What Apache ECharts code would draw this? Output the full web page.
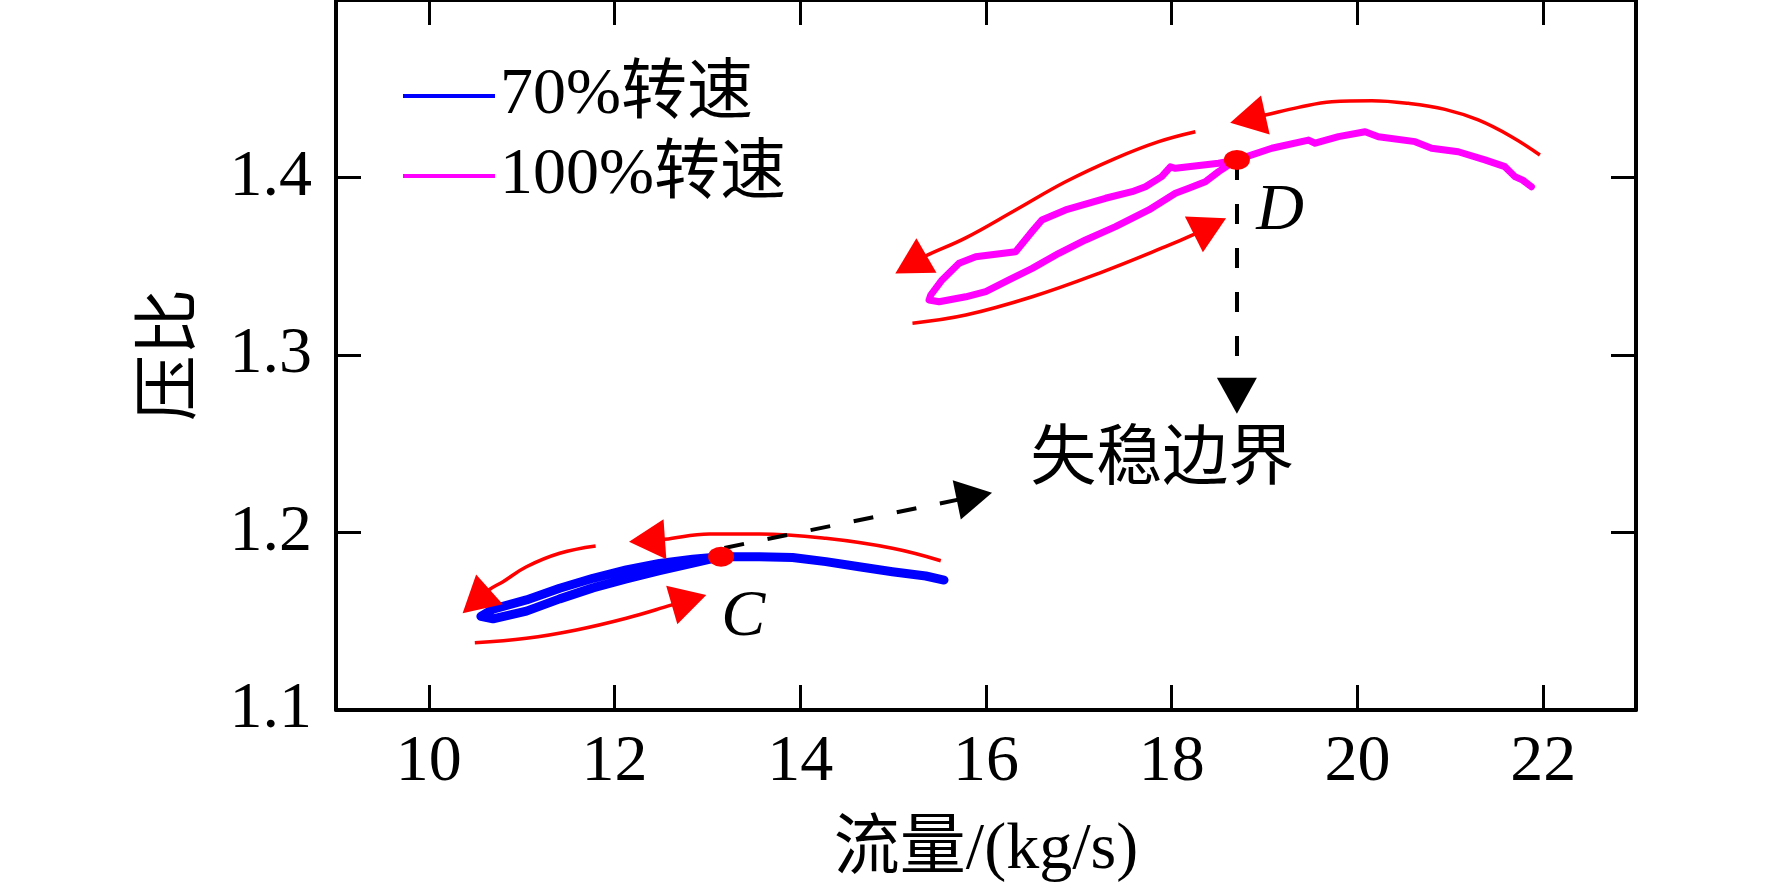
<!DOCTYPE html>
<html>
<head>
    <meta charset="utf-8">
    <title>压比-流量</title>
    <style>
        html, body { margin: 0; padding: 0; background: #fff; }
        #main { width: 1772px; height: 892px; }
    </style>
</head>
<body>
    <div id="main"></div>
    <script src="https://cdn.jsdelivr.net/npm/echarts@6.0.0/dist/echarts.min.js"></script>
    <script type="text/javascript">

        // 70% speed line: from the right end to stall point C, then the loop (upper branch out, lower branch back)
        const SPEED_70 = [
            [15.548, 1.1732], [15.352, 1.1755], [14.992, 1.1779], [14.634, 1.1807], [14.276, 1.1836],
            [13.917, 1.1859], [13.559, 1.1864], [13.147, 1.1864],
            [12.842, 1.1849], [12.484, 1.1826], [12.126, 1.1789], [11.767, 1.1742], [11.409, 1.1686],
            [11.051, 1.1620], [10.691, 1.1568], [10.560, 1.1528],
            [10.691, 1.1514], [11.051, 1.1557], [11.409, 1.1626], [11.767, 1.1688], [12.126, 1.1738],
            [12.484, 1.1785], [12.842, 1.1828], [13.147, 1.1864]
        ];

        // 100% speed line: from the right end to stall point D, then the loop
        const SPEED_100 = [
            [21.874, 1.3948], [21.780, 1.3985], [21.696, 1.4005], [21.588, 1.4061], [21.373, 1.4099],
            [21.086, 1.4145], [20.799, 1.4165], [20.621, 1.4202], [20.226, 1.4230], [20.083, 1.4258],
            [19.796, 1.4230], [19.545, 1.4193], [19.473, 1.4211], [19.078, 1.4165], [18.702, 1.4099],
            [18.505, 1.4080], [18.040, 1.4052], [17.986, 1.4060], [17.892, 1.4005], [17.717, 1.3948],
            [17.573, 1.3920], [17.287, 1.3883], [16.857, 1.3817], [16.602, 1.3761], [16.495, 1.3695],
            [16.319, 1.3582], [15.889, 1.3554], [15.710, 1.3517], [15.527, 1.3423], [15.405, 1.3338],
            [15.387, 1.3310],
            [15.495, 1.3300], [15.782, 1.3328], [15.997, 1.3357], [16.247, 1.3423], [16.498, 1.3488],
            [16.785, 1.3573], [17.072, 1.3648], [17.395, 1.3723], [17.753, 1.3817], [18.040, 1.3911],
            [18.183, 1.3939], [18.362, 1.3976], [18.505, 1.4033], [18.613, 1.4070], [18.702, 1.4099]
        ];

        // red guide arcs, the last point is where the arrow head sits
        const ARC_70_TOP = [[15.513, 1.1841], [14.992, 1.1911], [14.276, 1.1967], [13.559, 1.1992], [13.022, 1.1992], [12.538, 1.1962], [12.349, 1.1955]];
        const ARC_70_UPPER = [[11.796, 1.1924], [11.409, 1.1883], [11.051, 1.1807], [10.799, 1.1723], [10.645, 1.1676], [10.508, 1.1612]];
        const ARC_70_LOWER = [[10.495, 1.1379], [11.051, 1.1404], [11.588, 1.1451], [12.126, 1.1517], [12.618, 1.1592], [12.802, 1.1620]];
        const ARC_100_TOP = [[21.965, 1.4127], [21.659, 1.4230], [21.301, 1.4324], [20.943, 1.4384], [20.548, 1.4418], [20.154, 1.4433], [19.724, 1.4427], [19.366, 1.4395], [19.008, 1.4352], [18.819, 1.4330]];
        const ARC_100_UPPER = [[18.255, 1.4258], [17.860, 1.4202], [17.395, 1.4108], [16.857, 1.3976], [16.319, 1.3817], [15.782, 1.3660], [15.349, 1.3558], [15.191, 1.3510]];
        const ARC_100_LOWER = [[15.208, 1.3179], [15.782, 1.3225], [16.498, 1.3328], [17.215, 1.3460], [17.932, 1.3610], [18.245, 1.3681], [18.412, 1.3725]];
        const RED_ARCS = [ARC_70_TOP, ARC_70_UPPER, ARC_70_LOWER, ARC_100_TOP, ARC_100_UPPER, ARC_100_LOWER];

        // stall points C, D
        const STALL_POINTS = [[13.147, 1.1864], [18.702, 1.4099]];
        const STALL_NAMES = ['C', 'D'];
        const STALL_LABEL_POS = [[13.387, 1.1518], [19.167, 1.3808]];

        // dashed arrows pointing at the boundary text
        const BOUNDARY_ARROWS = [
            [[18.702, 1.4099], [18.702, 1.2770]],
            [[13.183, 1.1913], [15.875, 1.2204]]
        ];
        const BOUNDARY_TEXT = '失稳边界';
        const BOUNDARY_TEXT_POS = [17.898, 1.2399];

        const SERIES_NAMES = ['70%转速', '100%转速'];

        const FONT = "'Liberation Serif', 'Noto Sans CJK SC', serif";
        const FONT_SIZE = 66;

        let myChart = echarts.init(document.getElementById('main'));

        function axisCommon() {
            return {
                type: 'value',
                axisLine: { show: true, onZero: false, lineStyle: { color: '#000', width: 4 } },
                axisTick: { show: true, inside: true, length: 25, lineStyle: { color: '#000', width: 3 } },
                splitLine: { show: false }
            };
        }

        function xAxisOpt(pos) {
            let a = axisCommon();
            a.position = pos;
            a.min = 9;
            a.max = 23;
            a.splitNumber = 7;
            if (pos === 'bottom') {
                a.name = '流量/(kg/s)';
                a.nameLocation = 'middle';
                a.nameGap = 108;
                a.nameTextStyle = { fontFamily: FONT, fontSize: FONT_SIZE, color: '#000' };
                a.axisLabel = { margin: 20, fontFamily: FONT, fontSize: FONT_SIZE, color: '#000', showMinLabel: false, showMaxLabel: false };
            } else {
                a.axisLabel = { show: false };
            }
            return a;
        }

        function yAxisOpt(pos) {
            let a = axisCommon();
            a.position = pos;
            a.min = 1.1;
            a.max = 1.5;
            a.interval = 0.1;
            if (pos === 'left') {
                a.name = '压比';
                a.nameLocation = 'middle';
                a.nameGap = 130;
                a.nameTextStyle = { fontFamily: FONT, fontSize: FONT_SIZE, color: '#000' };
                a.axisLabel = { margin: 24, fontFamily: FONT, fontSize: FONT_SIZE, color: '#000', showMaxLabel: false };
            } else {
                a.axisLabel = { show: false };
            }
            return a;
        }

        let series = [
            {
                name: SERIES_NAMES[0],
                type: 'line',
                data: SPEED_70,
                showSymbol: false,
                color: '#0000ff',
                lineStyle: { color: '#0000ff', width: 9, join: 'round', cap: 'round' },
                z: 3
            },
            {
                name: SERIES_NAMES[1],
                type: 'line',
                data: SPEED_100,
                showSymbol: false,
                color: '#ff00ff',
                lineStyle: { color: '#ff00ff', width: 7, join: 'round', cap: 'round' },
                z: 3
            }
        ];

        for (let arc of RED_ARCS) {
            series.push({
                type: 'line',
                data: arc,
                smooth: 0.4,
                showSymbol: false,
                silent: true,
                lineStyle: { color: '#ff0000', width: 3.5 },
                z: 4
            });
        }

        // arrow heads: short segment from the last two points of each arc
        series.push({
            type: 'lines',
            coordinateSystem: 'cartesian2d',
            silent: true,
            symbol: ['none', 'triangle'],
            symbolSize: [0, [40, 36]],
            lineStyle: { color: '#ff0000', width: 3.5, opacity: 1 },
            data: RED_ARCS.map(function (arc) {
                return { coords: [arc[arc.length - 2], arc[arc.length - 1]] };
            }),
            z: 5
        });

        series.push({
            type: 'lines',
            coordinateSystem: 'cartesian2d',
            silent: true,
            symbol: ['none', 'triangle'],
            symbolSize: [0, [40, 36]],
            lineStyle: { color: '#000', width: 4, type: [20, 24], opacity: 1 },
            data: BOUNDARY_ARROWS.map(function (c) {
                return { coords: c };
            }),
            z: 5
        });

        series.push({
            type: 'scatter',
            data: STALL_POINTS,
            symbol: 'circle',
            symbolSize: [26, 20],
            itemStyle: { color: '#ff0000', opacity: 1 },
            silent: true,
            z: 6
        });

        series.push({
            type: 'scatter',
            data: STALL_LABEL_POS.map(function (p, i) {
                return { value: p, name: STALL_NAMES[i] };
            }),
            symbolSize: 1,
            itemStyle: { color: 'rgba(0,0,0,0)', opacity: 1 },
            silent: true,
            label: {
                show: true,
                position: 'inside',
                formatter: '{b}',
                fontFamily: FONT,
                fontStyle: 'italic',
                fontSize: FONT_SIZE,
                color: '#000',
                opacity: 1
            },
            z: 7
        });

        series.push({
            type: 'scatter',
            data: [{ value: BOUNDARY_TEXT_POS, name: BOUNDARY_TEXT }],
            symbolSize: 1,
            itemStyle: { color: 'rgba(0,0,0,0)', opacity: 1 },
            silent: true,
            label: {
                show: true,
                position: 'inside',
                formatter: '{b}',
                fontFamily: FONT,
                fontSize: FONT_SIZE,
                color: '#000',
                opacity: 1
            },
            z: 7
        });

        let option = {
            animation: false,
            backgroundColor: '#fff',
            textStyle: { fontFamily: FONT },
            grid: { left: 336, right: 136, top: 0, bottom: 182, outerBoundsMode: 'none' },
            legend: {
                data: SERIES_NAMES,
                orient: 'vertical',
                left: 398,
                top: 58,
                itemWidth: 92,
                itemHeight: 4,
                itemGap: 14,
                icon: 'rect',
                itemStyle: { borderWidth: 0 },
                textStyle: { fontFamily: FONT, fontSize: FONT_SIZE, color: '#000' },
                selectedMode: false
            },
            xAxis: [xAxisOpt('bottom'), xAxisOpt('top')],
            yAxis: [yAxisOpt('left'), yAxisOpt('right')],
            series: series
        };

        myChart.setOption(option);

    </script>
</body>
</html>
